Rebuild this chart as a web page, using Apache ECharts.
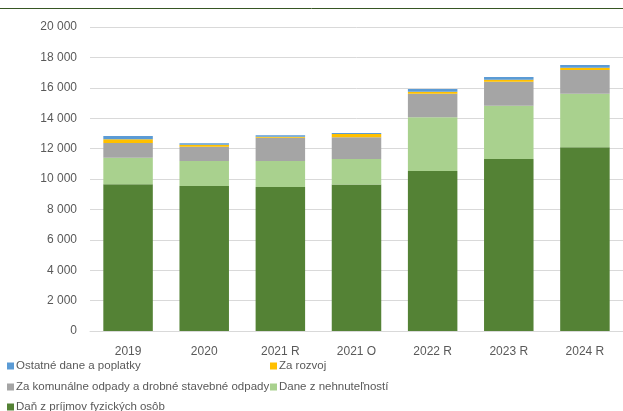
<!DOCTYPE html>
<html>
<head>
<meta charset="utf-8">
<script src="https://cdn.jsdelivr.net/npm/echarts@6/dist/echarts.min.js"></script>
<style>
  html, body { margin: 0; padding: 0; background: #fff; }
  #chart { width: 623px; height: 411px; }
</style>
</head>
<body>
<div id="chart"></div>
<script>
  const categories = ['2019', '2020', '2021 R', '2021 O', '2022 R', '2023 R', '2024 R']
  const yTicks = [0, 2000, 4000, 6000, 8000, 10000, 12000, 14000, 16000, 18000, 20000]

  // odčítané z grafu
  const danZPrijmov = [9650, 9540, 9475, 9630, 10530, 11320, 12090]
  const daneZNehnutelnosti = [1750, 1645, 1710, 1690, 3530, 3505, 3525]
  const zaKomunalneOdpady = [965, 940, 1535, 1425, 1555, 1580, 1560]
  const zaRozvoj = [245, 130, 65, 220, 130, 130, 150]
  const ostatneDane = [215, 95, 90, 65, 180, 175, 180]

  const seriesDefs = [
    { name: 'Daň z príjmov fyzických osôb', data: danZPrijmov, color: '#548235' },
    { name: 'Dane z nehnuteľností', data: daneZNehnutelnosti, color: '#A9D18E' },
    { name: 'Za komunálne odpady a drobné stavebné odpady', data: zaKomunalneOdpady, color: '#A5A5A5' },
    { name: 'Za rozvoj', data: zaRozvoj, color: '#FFC000' },
    { name: 'Ostatné dane a poplatky', data: ostatneDane, color: '#5B9BD5' }
  ]

  // pozície legendy (ako v Exceli, dva stĺpce)
  const legendPos = {
    'Ostatné dane a poplatky': [7, 360],
    'Za rozvoj': [270, 360],
    'Za komunálne odpady a drobné stavebné odpady': [7, 381],
    'Dane z nehnuteľností': [270, 381],
    'Daň z príjmov fyzických osôb': [7, 401]
  }

  let myChart = echarts.init(document.getElementById('chart'))
  let option = {
    animation: false,
    backgroundColor: '#fff',
    textStyle: { color: '#595959', fontFamily: 'Liberation Sans', fontSize: 11 },
    grid: { left: 90, top: 27, bottom: 80, width: 535 },
    xAxis: {
      type: 'category',
      data: categories,
      axisLine: { lineStyle: { color: '#d9d9d9', width: 1 } },
      axisTick: { show: false },
      axisLabel: { color: '#595959', fontSize: 12, margin: 15 }
    },
    yAxis: {
      type: 'value',
      min: yTicks[0],
      max: yTicks[yTicks.length - 1],
      interval: 2000,
      axisLine: { show: false },
      axisTick: { show: false },
      splitLine: { lineStyle: { color: '#d9d9d9', width: 1 } },
      axisLabel: {
        color: '#595959',
        fontSize: 12,
        margin: 13,
        formatter: function (v) {
          return String(v).replace(/\B(?=(\d{3})+(?!\d))/g, ' ')
        }
      }
    },
    legend: seriesDefs.map(function (s) {
      return {
        data: [s.name],
        left: legendPos[s.name][0],
        top: legendPos[s.name][1],
        itemWidth: 7,
        itemHeight: 7,
        itemGap: 0,
        padding: 0,
        icon: 'rect',
        selectedMode: false,
        textStyle: { color: '#595959', fontSize: 11.5, padding: [0, 0, 0, -3] }
      }
    }),
    series: seriesDefs.map(function (s) {
      return {
        name: s.name,
        type: 'bar',
        stack: 'total',
        barWidth: '65%',
        data: s.data,
        itemStyle: { color: s.color }
      }
    }),
    graphic: [{
      type: 'line',
      shape: { x1: 0, y1: 8.5, x2: 623, y2: 8.5 },
      style: { stroke: '#375623', lineWidth: 1 }
    }]
  }
  myChart.setOption(option)
</script>
</body>
</html>
